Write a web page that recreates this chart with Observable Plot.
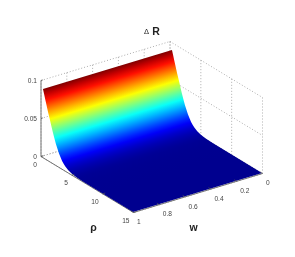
<!DOCTYPE html>
<html>
<head>
<meta charset="utf-8">
<script src="https://cdn.jsdelivr.net/npm/d3@7"></script>
<script src="https://cdn.jsdelivr.net/npm/@observablehq/plot@0.6"></script>
<style>
html,body{margin:0;padding:0;background:#fff;}
svg{display:block;filter:blur(0.5px);}
</style>
</head>
<body>
<div id="chart"></div>
<script>
// Values
const rhoValues = [0.4,0.6,0.8,1.0,1.25,1.5,1.75,2.0,2.25,2.5,2.75,3.0,3.25,3.5,3.75,4.0,4.25,4.5,5,5.5,6,7,8,10,15];
const deltaR = [.0900,.0838,.0774,.0710,.0631,.0560,.0485,.0410,.0345,.0280,.0230,.0180,.0142,.0105,.0082,.0060,.0047,.0035,.0020,.0010,.0005,.0002,.0001,0,0];
const rhoTicks = [0,5,10,15];
const wTicks = [0,0.2,0.4,0.6,0.8,1];
const wLabels = ["0","0.2","0.4","0.6","0.8","1"];
const zTicks = [0,0.05,0.1];
const zLabels = ["0","0.05","0.1"];
const jetStops = [0,.01125,.03375,.05625,.07875,.09];
const jetColors = ["#00008f","#0000ff","#00ffff","#ffff00","#ff0000","#800000"];

// View of the 3-D box (orthographic)
const px = (r,w) => 40.5 + r/15*92.5 + (1-w)*129;
const py = (r,w,z) => 156 + r/15*56 - (1-w)*39 - z/0.1*76;
const seg = (a,b) => ({x1:px(a[0],a[1]),y1:py(a[0],a[1],a[2]),x2:px(b[0],b[1]),y2:py(b[0],b[1],b[2])});

// Surface: ruled along w, so one gradient across the w direction colours it
const surface = rhoValues.map((r,i)=>seg([r,1,deltaR[i]],[r,0,deltaR[i]]));
const nLen = Math.hypot(39,129), nx = 39/nLen, ny = 129/nLen;
const along = (s)=> (s.x1-surface[0].x1)*nx + (s.y1-surface[0].y1)*ny;
const span = along(surface[surface.length-1]);
const jet = d3.scaleLinear().domain(jetStops).range(jetColors);
const stopLevels = [...deltaR.map((z,i)=>({z,t:along(surface[i])/span}))];
function jetGradient(){
  const defs = d3.create("svg:defs");
  const g = defs.append("linearGradient").attr("id","jetSurface").attr("gradientUnits","userSpaceOnUse")
    .attr("x1",surface[0].x1).attr("y1",surface[0].y1)
    .attr("x2",surface[0].x1+nx*span).attr("y2",surface[0].y1+ny*span);
  for (const s of stopLevels) g.append("stop").attr("offset",s.t).attr("stop-color",jet(s.z));
  return defs.node();
}

// Dotted grid on the back walls and floor
const grid = [];
for (const z of zTicks) {
  grid.push(seg([0,1,z],[0,0,z]));
  grid.push(seg([0,0,z],[15,0,z]));
}
for (const w of wTicks) {
  grid.push(seg([0,w,0],[0,w,0.1]));
  grid.push(seg([0,w,0],[15,w,0]));
}
for (const r of rhoTicks) {
  grid.push(seg([r,0,0],[r,0,0.1]));
  grid.push(seg([r,1,0],[r,0,0]));
}
const axes = [seg([0,1,0],[0,1,0.1]), seg([0,1,0],[15,1,0]), seg([15,1,0],[15,0,0])];
const ticks = [
  ...zTicks.map(z=>seg([0,1,z],[0,0.985,z])),
  ...rhoTicks.map(r=>seg([r,1,0],[r,0.98,0])),
  ...wTicks.map(w=>seg([15,w,0],[14.6,w,0]))
];
const font = "Liberation Sans, Arial, Helvetica, sans-serif";
const lab = {fontFamily:font,fontSize:6.6,fill:"#444"};

const plot = Plot.plot({
  width:295,height:257,margin:0,
  style:{background:"#fff"},
  x:{type:"linear",domain:[0,295],range:[0,295],axis:null},
  y:{type:"linear",domain:[0,257],range:[0,257],axis:null},
  marks:[
    jetGradient,
    Plot.link(grid,{x1:"x1",y1:"y1",x2:"x2",y2:"y2",stroke:"#999",strokeWidth:0.8,strokeDasharray:"1,2"}),
    Plot.link(axes,{x1:"x1",y1:"y1",x2:"x2",y2:"y2",stroke:"#666",strokeWidth:0.9}),
    Plot.area(surface,{x1:"x1",y1:"y1",x2:"x2",y2:"y2",fill:"url(#jetSurface)"}),
    Plot.link(ticks,{x1:"x1",y1:"y1",x2:"x2",y2:"y2",stroke:"#555",strokeWidth:0.7}),
    Plot.text(zTicks,{x:()=>px(0,1),y:z=>py(0,1,z),text:(d,i)=>zLabels[i],textAnchor:"end",dx:-4,...lab}),
    Plot.text(rhoTicks,{x:r=>px(r,1),y:r=>py(r,1,0),text:r=>String(r),textAnchor:"end",dx:-4,dy:8,...lab}),
    Plot.text(wTicks,{x:w=>px(15,w),y:w=>py(15,w,0),text:(d,i)=>wLabels[i],textAnchor:"start",dx:3.5,dy:9.5,...lab}),
    Plot.text(["\u0394"],{x:()=>146,y:()=>31,text:d=>d,fontFamily:font,fontSize:7.5,fill:"#222"}),
    Plot.text(["R"],{x:()=>155.5,y:()=>31.5,text:d=>d,fontFamily:font,fontSize:10.5,fontWeight:"bold",fill:"#222"}),
    Plot.text(["\u03c1"],{x:()=>93,y:()=>227,text:d=>d,fontFamily:font,fontSize:10.5,fontWeight:"bold",fill:"#222"}),
    Plot.text(["w"],{x:()=>193,y:()=>227.5,text:d=>d,fontFamily:font,fontSize:10.5,fontWeight:"bold",fill:"#222"})
  ]
});
document.getElementById("chart").append(plot);
</script>
</body>
</html>
